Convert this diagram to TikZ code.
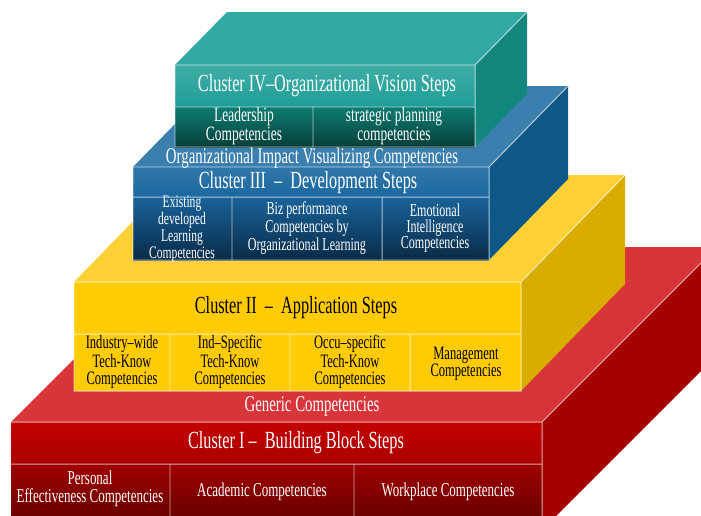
\documentclass[tikz,border=0pt]{standalone}
\usepackage{fontspec}
\setmainfont{Liberation Serif}[FakeStretch=0.66]

\definecolor{tealtop}{HTML}{31AAA4}
\definecolor{tealhead}{HTML}{1E9E97}
\definecolor{tealside}{HTML}{13877E}
\definecolor{tealcell}{HTML}{0E7C72}
\definecolor{tealdark}{HTML}{063F39}
\definecolor{bluetop}{HTML}{3B7FAE}
\definecolor{bluehead}{HTML}{1A68A0}
\definecolor{blueside}{HTML}{0D5886}
\definecolor{bluecell}{HTML}{1A6399}
\definecolor{bluedark}{HTML}{092B48}
\definecolor{yeltop}{HTML}{FDD136}
\definecolor{yelfront}{HTML}{FFCB05}
\definecolor{yelside}{HTML}{D9AC00}
\definecolor{redtop}{HTML}{D8353A}
\definecolor{redhead}{HTML}{C30000}
\definecolor{redside}{HTML}{A60000}
\definecolor{redcell}{HTML}{A10000}
\definecolor{reddark}{HTML}{5C0000}

\tikzset{
  edge/.style={draw=white, draw opacity=.65, line width=.7pt},
  title/.style={inner sep=0pt, font=\fontsize{17.5}{19}\selectfont},
  cell/.style={align=center, inner sep=0pt, font=\fontsize{13.5}{12}\selectfont},
  onface/.style={inner sep=0pt, text=white, font=\fontsize{16}{18}\selectfont},
}

\begin{document}
\begin{tikzpicture}[x=0.025cm,y=-0.025cm]
\useasboundingbox (0,0) rectangle (701,515);
\clip (0,0) rectangle (701,515);

% cluster I: red base block
\fill[redtop] (11,422) -- (542,422) -- ++(175,-175) -- (186,247) -- cycle;
\fill[redside] (542,422) -- ++(175,-175) -- ++(0,108) -- (542,530) -- cycle;
\shade[top color=redhead, bottom color=redhead!88!black] (11,422) rectangle (542,464);
\shade[top color=redcell, bottom color=reddark] (11,464) rectangle (542,530);
\draw[edge] (11,422) -- (542,422) -- ++(175,-175)
    (542,422) -- (542,530)
    (11,464) -- (542,464)
    (170,464) -- (170,530)
    (354,464) -- (354,530);

% cluster II: yellow block
\fill[yeltop] (74,282) -- (521,282) -- ++(104,-107) -- (178,175) -- cycle;
\fill[yelside] (521,282) -- ++(104,-107) -- ++(0,109) -- (521,391) -- cycle;
\fill[yelfront] (74,282) rectangle (521,391);
\draw[edge] (74,282) -- (521,282) -- ++(104,-107)
    (521,282) -- (521,391) -- (74,391) -- (74,282)
    (74,334) -- (521,334)
    (170,334) -- (170,391)
    (290,334) -- (290,391)
    (410,334) -- (410,391);

% cluster III: blue block
\fill[bluetop] (133,167) -- (489,167) -- ++(79,-81) -- (212,86) -- cycle;
\fill[blueside] (489,167) -- ++(79,-81) -- ++(0,93) -- (489,260) -- cycle;
\shade[top color=bluehead!90!white, bottom color=bluehead] (133,167) rectangle (489,197);
\shade[top color=bluecell, bottom color=bluedark] (133,197) rectangle (489,260);
\draw[edge] (133,167) -- (489,167) -- ++(79,-81)
    (489,167) -- (489,260) -- (133,260) -- (133,167)
    (133,197) -- (489,197)
    (232,197) -- (232,260)
    (382,197) -- (382,260);

% cluster IV: teal block
\fill[tealtop] (175,65) -- (475,65) -- ++(52,-53) -- (227,12) -- cycle;
\fill[tealside] (475,65) -- ++(52,-53) -- ++(0,82) -- (475,147) -- cycle;
\shade[top color=tealhead!85!white, bottom color=tealhead] (175,65) rectangle (475,107);
\shade[top color=tealcell, bottom color=tealdark] (175,107) rectangle (475,147);
\draw[edge] (175,65) -- (475,65) -- ++(52,-53)
    (475,65) -- (475,147) -- (175,147) -- (175,65)
    (175,107) -- (475,107)
    (313,107) -- (313,147);

% labels
\node[onface] (generic) at (312,406) {Generic Competencies};
\node[title, text=white] (clusterI) at (296,443) {Cluster I\,--\, Building Block Steps};
\node[cell, text=white, font=\fontsize{14}{12.5}\selectfont] (personal) at (90,489) {Personal\\Effectiveness Competencies};
\node[cell, text=white, font=\fontsize{14}{12.5}\selectfont] (academic) at (262,492) {Academic Competencies};
\node[cell, text=white, font=\fontsize{14}{12.5}\selectfont] (workplace) at (448,492) {Workplace Competencies};

\node[title] (clusterII) at (296,308) {Cluster II \,--\, Application Steps};
\node[cell] (induwide) at (122,362) {Industry--wide\\Tech-Know\\Competencies};
\node[cell] (indspec) at (230,362) {Ind--Specific\\Tech-Know\\Competencies};
\node[cell] (occuspec) at (350,362) {Occu--specific\\Tech-Know\\Competencies};
\node[cell] (mgmt) at (466,364) {Management\\Competencies};

\node[onface] (orgimpact) at (312,158) {Organizational Impact Visualizing Competencies};
\node[title, text=white] (clusterIII) at (308,183) {Cluster III \,--\, Development Steps};
\node[cell, text=white, font=\fontsize{12.5}{10.8}\selectfont] (existing) at (182,229) {Existing\\developed\\Learning\\Competencies};
\node[cell, text=white, font=\fontsize{13}{11.5}\selectfont] (biz) at (307,228) {Biz performance\\Competencies by\\Organizational Learning};
\node[cell, text=white, font=\fontsize{13}{11.5}\selectfont] (emotional) at (435,228) {Emotional\\Intelligence\\Competencies};

\node[title, text=white] (clusterIV) at (327,86) {Cluster IV--Organizational Vision Steps};
\node[cell, text=white, font=\fontsize{14.5}{12.5}\selectfont] (leader) at (244,126) {Leadership\\Competencies};
\node[cell, text=white, font=\fontsize{14.5}{12.5}\selectfont] (strategic) at (394,126) {strategic planning\\competencies};
\end{tikzpicture}
\end{document}
